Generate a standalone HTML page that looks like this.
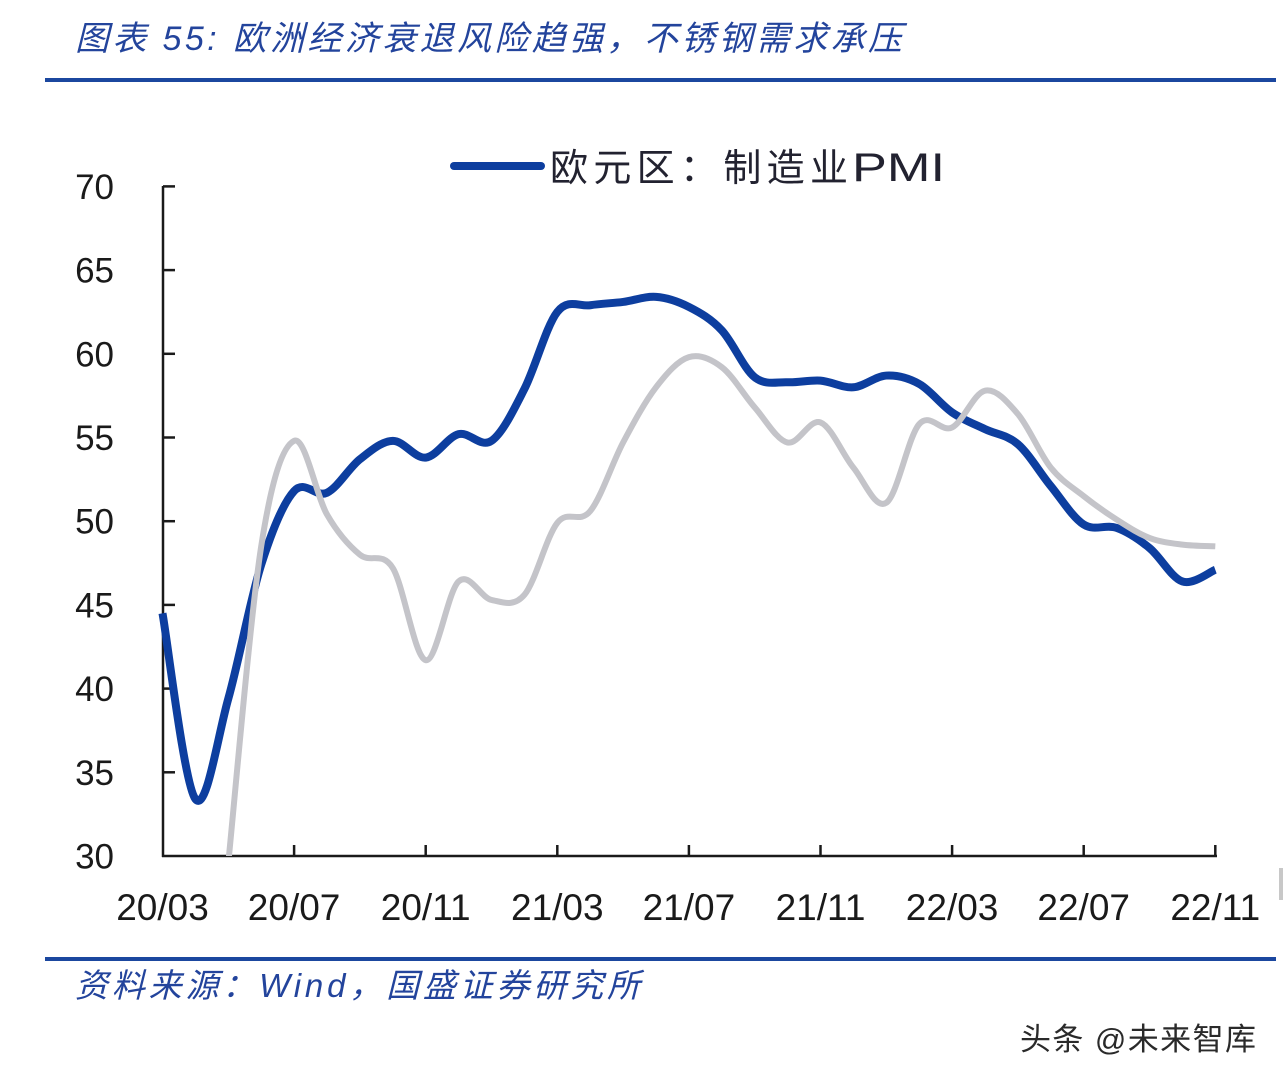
<!DOCTYPE html>
<html>
<head>
<meta charset="utf-8">
<style>
html,body{margin:0;padding:0;background:#fff;}
svg{display:block;}
</style>
</head>
<body>
<svg id="s" width="1284" height="1082" viewBox="0 0 1284 1082" xmlns="http://www.w3.org/2000/svg">
<rect width="1284" height="1082" fill="#ffffff"/>
<!-- title -->
<text x="75" y="50" font-family="'Liberation Sans','Noto Sans CJK SC',sans-serif" font-size="34" font-style="italic" fill="#23449c" textLength="827" lengthAdjust="spacing">图表 55: 欧洲经济衰退风险趋强，不锈钢需求承压</text>
<line x1="45" y1="80" x2="1276" y2="80" stroke="#1b479f" stroke-width="4"/>
<!-- legend -->
<line x1="454" y1="166" x2="541" y2="166" stroke="#0d3e9f" stroke-width="8" stroke-linecap="round"/>
<text x="550" y="181" font-family="'Liberation Sans','Noto Sans CJK SC',sans-serif" font-size="38" fill="#222230" textLength="298" lengthAdjust="spacing">欧元区：制造业</text>
<text x="852" y="181" font-family="'Liberation Sans',sans-serif" font-size="40" fill="#222230" textLength="93" lengthAdjust="spacingAndGlyphs">PMI</text>
<defs>
<clipPath id="plot"><rect x="163" y="150" width="1100" height="706"/></clipPath>
</defs>
<!-- axes -->
<g stroke="#1a1a1a" stroke-width="2.5" fill="none" id="axes">
<line x1="163" y1="186" x2="163" y2="857"/>
<line x1="162" y1="856" x2="1217" y2="856"/>
</g>
<g id="ylab" font-family="'Liberation Sans',sans-serif" font-size="35" fill="#1a1a1a" text-anchor="end"></g>
<g id="xlab" font-family="'Liberation Sans',sans-serif" font-size="37" fill="#1a1a1a" text-anchor="middle"></g>
<path id="blue" fill="none" stroke="#0d3e9f" stroke-width="8" stroke-linejoin="round" stroke-linecap="butt"/>
<path id="gray" fill="none" stroke="#c4c4c9" stroke-width="6" stroke-linejoin="round" stroke-linecap="butt" clip-path="url(#plot)"/>
<!-- source -->
<line x1="45" y1="959" x2="1276" y2="959" stroke="#1b479f" stroke-width="4"/>
<text x="75" y="997" font-family="'Liberation Sans','Noto Sans CJK SC',sans-serif" font-size="33" font-style="italic" fill="#23449c" textLength="565" lengthAdjust="spacing">资料来源：Wind，国盛证券研究所</text>
<!-- watermark -->
<text x="1020" y="1050" font-family="'Liberation Sans','Noto Sans CJK SC',sans-serif" font-size="31" fill="#2a2a2a" textLength="236" lengthAdjust="spacing">头条 @未来智库</text>
<rect x="1279" y="868" width="4" height="32" fill="#c8c8c8"/>
</svg>
<script>
(function(){
  var NS="http://www.w3.org/2000/svg";
  var x0=162.5, dx=32.9;
  function X(i){return x0+dx*i;}
  function Y(v){return 856-(v-30)*16.74;}
  var blue=[44.5,33.4,39.4,47.4,51.8,51.7,53.7,54.8,53.8,55.2,54.8,57.9,62.5,62.9,63.1,63.4,62.8,61.4,58.6,58.3,58.4,58.0,58.7,58.2,56.5,55.5,54.6,52.1,49.8,49.6,48.4,46.4,47.1];
  var gray=[null,null,29.6,48.5,54.8,50.4,48.0,47.2,41.7,46.4,45.3,45.6,49.9,50.6,54.7,58.0,59.8,59.2,56.8,54.7,55.9,53.2,51.1,55.8,55.6,57.8,56.4,53.2,51.5,50.1,49.0,48.6,48.5];
  function path(arr){
    var p=[];
    for(var i=0;i<arr.length;i++){ if(arr[i]!==null) p.push([X(i),Y(arr[i])]); }
    var d="M"+p[0][0].toFixed(2)+","+p[0][1].toFixed(2);
    for(var k=0;k<p.length-1;k++){
      var a=p[k-1]||p[k], b=p[k], c=p[k+1], e=p[k+2]||c;
      var c1x=b[0]+(c[0]-a[0])/6, c1y=b[1]+(c[1]-a[1])/6;
      var c2x=c[0]-(e[0]-b[0])/6, c2y=c[1]-(e[1]-b[1])/6;
      d+=" C"+c1x.toFixed(2)+","+c1y.toFixed(2)+" "+c2x.toFixed(2)+","+c2y.toFixed(2)+" "+c[0].toFixed(2)+","+c[1].toFixed(2);
    }
    return d;
  }
  document.getElementById("blue").setAttribute("d",path(blue));
  document.getElementById("gray").setAttribute("d",path(gray));
  var axes=document.getElementById("axes");
  var yl=document.getElementById("ylab");
  for(var v=30; v<=70; v+=5){
    var y=Y(v);
    if(v>30){
      var t=document.createElementNS(NS,"line");
      t.setAttribute("x1",163);t.setAttribute("x2",175);
      t.setAttribute("y1",y);t.setAttribute("y2",y);
      axes.appendChild(t);
    }
    var tx=document.createElementNS(NS,"text");
    tx.setAttribute("x",114);tx.setAttribute("y",(y+12.5).toFixed(1));
    tx.textContent=String(v);
    yl.appendChild(tx);
  }
  var labs=["20/03","20/07","20/11","21/03","21/07","21/11","22/03","22/07","22/11"];
  var xl=document.getElementById("xlab");
  for(var k=0;k<labs.length;k++){
    var x=X(k*4);
    if(k>0){
      var t2=document.createElementNS(NS,"line");
      t2.setAttribute("x1",x);t2.setAttribute("x2",x);
      t2.setAttribute("y1",845);t2.setAttribute("y2",856);
      axes.appendChild(t2);
    }
    var tx2=document.createElementNS(NS,"text");
    tx2.setAttribute("x",x.toFixed(1));tx2.setAttribute("y",920);
    tx2.textContent=labs[k];
    xl.appendChild(tx2);
  }
})();
</script>
</body>
</html>
